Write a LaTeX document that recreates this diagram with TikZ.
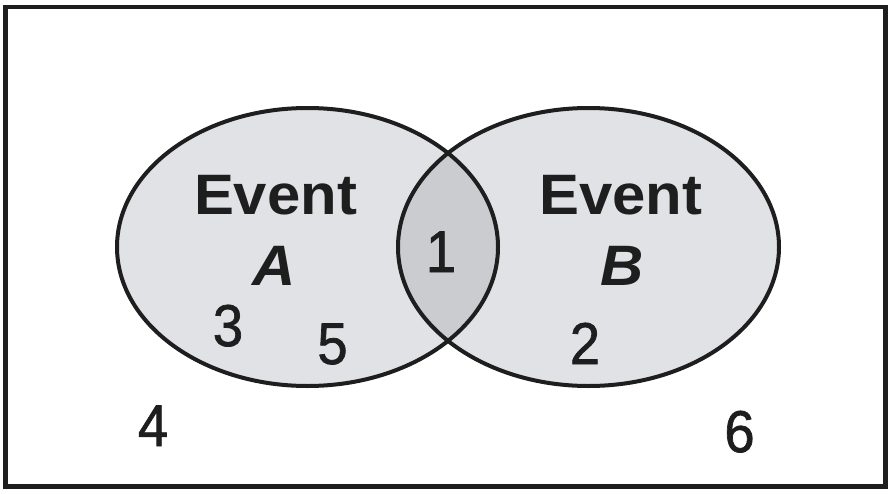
\documentclass[tikz,border=0pt]{standalone}
\usepackage{fontspec}
\setmainfont{Liberation Sans}
\newfontfamily\eventfont[FakeStretch=1.05]{Liberation Sans}
\newfontfamily\digitfont[FakeStretch=0.92,FakeBold=1.2]{Liberation Sans}
\definecolor{setfill}{HTML}{E1E2E6}
\definecolor{overlapfill}{HTML}{CBCCCF}
\definecolor{ink}{HTML}{1E1E1E}
\tikzstyle{frame}=[draw=ink,line width=4.5pt]
\tikzstyle{setline}=[draw=ink,line width=4pt]
\tikzstyle{eventlabel}=[font=\eventfont\fontsize{57}{60}\selectfont\bfseries,text=ink,anchor=base,inner sep=0pt]
\tikzstyle{outcome}=[font=\digitfont\fontsize{59}{60}\selectfont,text=ink,anchor=base,inner sep=0pt]

\begin{document}
\begin{tikzpicture}[x=1pt,y=-1pt]
	\useasboundingbox (0,0) rectangle (892,493);
	\draw [style=frame] (5.5,7) rectangle (885.5,486.5);
	% the two sets and their overlap
	\fill [setfill] (307.5,247) ellipse [x radius=190.5, y radius=139];
	\fill [setfill] (588.5,247) ellipse [x radius=190.5, y radius=139];
	\begin{scope}
		\clip (307.5,247) ellipse [x radius=190.5, y radius=139];
		\fill [overlapfill] (588.5,247) ellipse [x radius=190.5, y radius=139];
	\end{scope}
	\draw [style=setline] (307.5,247) ellipse [x radius=190.5, y radius=139];
	\draw [style=setline] (588.5,247) ellipse [x radius=190.5, y radius=139];
	% labels
	\node [style=eventlabel] (eventA) at (275.5,214) {Event};
	\node [style=eventlabel] (nameA) at (274,285) {\itshape A};
	\node [style=eventlabel] (eventB) at (621,214) {Event};
	\node [style=eventlabel] (nameB) at (622,285) {\itshape B};
	% outcomes
	\node [style=outcome] (one) at (441,272) {1};
	\node [style=outcome] (two) at (585,364) {2};
	\node [style=outcome] (three) at (228,346) {3};
	\node [style=outcome] (four) at (153,446) {4};
	\node [style=outcome] (five) at (332.5,364) {5};
	\node [style=outcome] (six) at (739.5,452) {6};
\end{tikzpicture}
\end{document}
